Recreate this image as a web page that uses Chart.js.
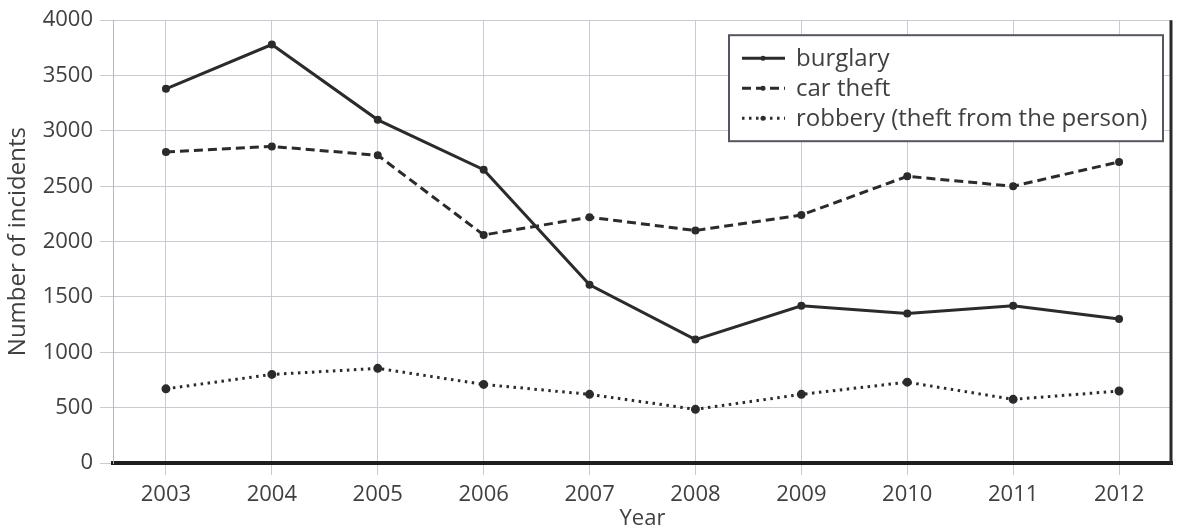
<!DOCTYPE html>
<html>
<head>
<meta charset="utf-8">
<script src="https://cdn.jsdelivr.net/npm/chart.js@4/dist/chart.umd.min.js"></script>
<style>
  html, body { margin: 0; padding: 0; background: #fff; }
  #wrap { width: 1179px; height: 528px; }
</style>
</head>
<body>
<div id="wrap"><canvas id="myChart" width="1179" height="528"></canvas></div>
<script>
// Chart data
const years = ['2003', '2004', '2005', '2006', '2007', '2008', '2009', '2010', '2011', '2012'];
const burglary = [3380, 3780, 3100, 2650, 1610, 1115, 1420, 1350, 1420, 1300];
const carTheft = [2810, 2860, 2780, 2060, 2220, 2100, 2240, 2590, 2500, 2720];
const robbery = [670, 800, 855, 710, 620, 485, 620, 730, 575, 650];
const yTicks = [0, 500, 1000, 1500, 2000, 2500, 3000, 3500, 4000];

const ink = '#2b2b2b';
const textColor = '#404040';
const gridColor = '#cbc9d6';
const font = '"Open Sans", "Noto Sans", sans-serif';

// Legend drawn as a boxed panel in the top right of the plot,
// plus the dark right-hand frame line
const boxLegend = {
  id: 'boxLegend',
  afterDatasetsDraw(chart) {
    const ctx = chart.ctx;
    const area = chart.chartArea;
    ctx.save();
    ctx.strokeStyle = '#2a2a2a';
    ctx.lineWidth = 3;
    ctx.beginPath();
    ctx.moveTo(area.right - 1, area.top);
    ctx.lineTo(area.right - 1, area.bottom + 1);
    ctx.stroke();

    const x0 = area.right - 443;
    const y0 = area.top + 15;
    const w = 434;
    const h = 106;
    ctx.fillStyle = '#fff';
    ctx.fillRect(x0, y0, w, h);
    ctx.strokeStyle = '#555566';
    ctx.lineWidth = 2;
    ctx.strokeRect(x0, y0, w, h);
    ctx.font = '24px ' + font;
    ctx.textBaseline = 'middle';
    chart.data.datasets.forEach((ds, i) => {
      const y = y0 + 23 + i * 30;
      ctx.strokeStyle = ink;
      ctx.lineWidth = ds.borderWidth;
      ctx.setLineDash(ds.borderDash || []);
      ctx.beginPath();
      ctx.moveTo(x0 + 13, y);
      ctx.lineTo(x0 + 56, y);
      ctx.stroke();
      ctx.setLineDash([]);
      ctx.fillStyle = ink;
      ctx.beginPath();
      ctx.arc(x0 + 34, y, 2.5, 0, Math.PI * 2);
      ctx.fill();
      ctx.fillStyle = textColor;
      ctx.fillText(ds.label, x0 + 67, y + 1);
    });
    ctx.restore();
  }
};

const ctx = document.getElementById('myChart').getContext('2d');

new Chart(ctx, {
  type: 'line',
  data: {
    labels: years,
    datasets: [{
      label: 'burglary',
      data: burglary,
      borderColor: ink,
      backgroundColor: ink,
      borderWidth: 3,
      pointRadius: 2.5,
      tension: 0
    }, {
      label: 'car theft',
      data: carTheft,
      borderColor: ink,
      backgroundColor: ink,
      borderWidth: 3,
      borderDash: [9, 5],
      pointRadius: 2.5,
      tension: 0
    }, {
      label: 'robbery (theft from the person)',
      data: robbery,
      borderColor: ink,
      backgroundColor: ink,
      borderWidth: 3,
      borderDash: [2.5, 4.5],
      pointRadius: 3,
      tension: 0
    }]
  },
  options: {
    responsive: false,
    animation: false,
    layout: { padding: { top: 19, right: 3, left: 0, bottom: 0 } },
    plugins: {
      legend: { display: false },
      tooltip: { enabled: false }
    },
    scales: {
      x: {
        offset: true,
        grid: {
          offset: false,
          color: gridColor,
          lineWidth: 1,
          tickLength: 12
        },
        border: { color: '#1e1e1e', width: 4 },
        ticks: {
          color: textColor,
          padding: 7,
          font: { family: font, size: 22 }
        },
        title: {
          display: true,
          text: 'Year',
          color: textColor,
          padding: { top: 0, bottom: -2 },
          font: { family: font, size: 22, lineHeight: 1 }
        },
        afterFit(scale) { scale.height = 65; }
      },
      y: {
        min: 0,
        max: 4000,
        afterBuildTicks(scale) { scale.ticks = yTicks.map(v => ({ value: v })); },
        grid: {
          color: gridColor,
          lineWidth: 1,
          tickLength: 13
        },
        border: { color: '#b8b6c4', width: 1 },
        ticks: {
          color: textColor,
          padding: 7,
          font: { family: font, size: 22 },
          callback: v => String(v)
        },
        title: {
          display: true,
          text: 'Number of incidents',
          color: textColor,
          padding: { top: 4, bottom: 0 },
          font: { family: font, size: 24 }
        },
        afterFit(scale) { scale.width = 113; }
      }
    }
  },
  plugins: [boxLegend]
});
</script>
</body>
</html>
